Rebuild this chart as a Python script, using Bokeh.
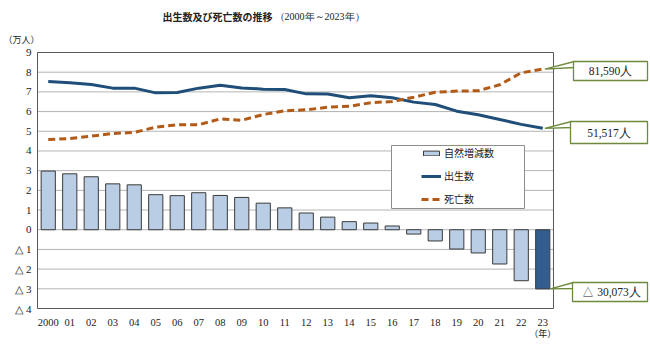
from bokeh.plotting import figure
from bokeh.models import Range1d, Legend, LegendItem, BoxAnnotation, Label
from bokeh.core.properties import value
from bokeh.embed import file_html
from bokeh.resources import INLINE

# ---- data (万人) ----
years = ["2000", "01", "02", "03", "04", "05", "06", "07", "08", "09", "10", "11",
         "12", "13", "14", "15", "16", "17", "18", "19", "20", "21", "22", "23"]
births = [7.53, 7.46, 7.38, 7.19, 7.19, 6.95, 6.97, 7.19, 7.34, 7.20, 7.14, 7.12,
          6.90, 6.89, 6.70, 6.80, 6.70, 6.48, 6.36, 6.02, 5.84, 5.60, 5.35, 5.1517]
deaths = [4.58, 4.63, 4.75, 4.89, 4.94, 5.21, 5.33, 5.33, 5.63, 5.56, 5.85, 6.04,
          6.09, 6.22, 6.27, 6.45, 6.51, 6.73, 6.98, 7.04, 7.06, 7.36, 7.97, 8.159]
natural = [2.98, 2.84, 2.69, 2.33, 2.28, 1.78, 1.73, 1.88, 1.74, 1.64, 1.35, 1.11,
           0.85, 0.64, 0.41, 0.34, 0.19, -0.22, -0.57, -0.98, -1.18, -1.74, -2.59, -3.0073]
y_ticks = list(range(-4, 10))
y_labels = [(f"△ {abs(t)}" if t < 0 else str(t)) for t in y_ticks]
last_deaths = 81590
last_births = 51517
last_natural = -30073

# ---- geometry / styles ----
W, H = 650, 353
PL, PR, PT, PB = 37, 553, 52, 308          # plot-area box on the canvas (px)
YMIN, YMAX = -4, 9
N = len(years)
UX = (PR - PL) / N                          # px per category
UY = (PB - PT) / (YMAX - YMIN)              # px per unit
NARROW = "Liberation Sans Narrow"
JP = "Noto Sans CJK JP"
GREEN = "#6e8a3c"
TXT = "#222222"


def dx(cx):   # canvas px -> data x
    return -0.5 + (cx - PL) / UX


def dy(cy):   # canvas px -> data y
    return YMAX - (cy - PT) / UY


p = figure(width=W, height=H, x_range=Range1d(dx(0), dx(W)),
           y_range=Range1d(dy(H), dy(0)), output_backend="svg",
           toolbar_location=None, x_axis_location=None, y_axis_location=None,
           min_border=0)
p.background_fill_color = "white"
p.border_fill_color = "white"
p.outline_line_color = None
p.xgrid.visible = False
p.ygrid.visible = False

xs = list(range(N))

# gridlines and plot border
p.segment(x0=-0.5, x1=N - 0.5, y0=y_ticks, y1=y_ticks, line_color="#b4b4b4", line_width=1)
p.quad(left=-0.5, right=N - 0.5, bottom=YMIN, top=YMAX, fill_color=None,
       line_color="#595959", line_width=1)

# tick labels
p.text(x=[-0.5] * len(y_ticks), y=y_ticks, text=y_labels, x_offset=-6,
       text_align="right", text_baseline="middle", text_font=value(NARROW),
       text_font_size="11px", text_color=TXT)
p.text(x=xs, y=[YMIN] * N, text=years, y_offset=14, text_align="center",
       text_baseline="middle", text_font=value(NARROW), text_font_size="10.5px",
       text_color=TXT)

colors = ["#b9cde5"] * (N - 1) + ["#345d8f"]
bars = p.vbar(x=xs, top=natural, width=0.66, fill_color=colors,
              line_color="#3a3a3a", line_width=1)
bl = p.line(x=xs, y=births, line_color="#1f4e79", line_width=3)
dl = p.line(x=xs, y=deaths, line_color="#b25a17", line_width=3, line_dash="7 4")


def screen_box(l, r, t, b, line_color, lw):
    return BoxAnnotation(left=l, right=r, top=H - t, bottom=H - b,
                         left_units="screen", right_units="screen",
                         top_units="screen", bottom_units="screen",
                         fill_color="white", fill_alpha=1,
                         line_color=line_color, line_width=lw, line_alpha=1)


# legend box + legend
p.add_layout(screen_box(391, 524, 145, 208, "#8c8c8c", 1))
legend = Legend(items=[LegendItem(label="自然増減数", renderers=[bars]),
                       LegendItem(label="出生数", renderers=[bl]),
                       LegendItem(label="死亡数", renderers=[dl])],
                location=(421, H - 206), orientation="vertical",
                border_line_color=None, background_fill_alpha=0,
                padding=0, margin=0, spacing=8, glyph_width=20, glyph_height=6,
                label_height=14, label_standoff=3,
                label_text_font=JP, label_text_font_size="10px",
                label_text_color=TXT)
p.add_layout(legend, "center")


def fmt(n):
    s = f"{abs(n):,}人"
    return ("△ " + s) if n < 0 else s


# callouts: (anchor x, anchor y, box l, r, t, b in canvas px, text)
callouts = [
    (N - 1 + 0.1, deaths[-1], (573, 647, 61, 80), fmt(last_deaths)),
    (N - 1 + 0.1, births[-1], (570, 647, 121, 143), fmt(last_births)),
    (N - 1 + 0.36, natural[-1], (572, 647, 282, 301), fmt(last_natural)),
]
for ax_, ay_, (l, r, t, b), txt in callouts:
    p.patch(x=[ax_, dx(l + 1), dx(l + 1)], y=[ay_, dy(t), dy(t + 6)],
            fill_color="white", line_color=GREEN, line_width=1.3)
    p.add_layout(screen_box(l, r, t, b, GREEN, 1.3))
    p.add_layout(Label(x=(l + r) / 2, y=H - (t + b) / 2, x_units="screen",
                       y_units="screen", text=txt, text_align="center",
                       text_baseline="middle", text_font=NARROW,
                       text_font_size="11.5px", text_color=TXT))

# titles and unit labels
p.add_layout(Label(x=162, y=H - 16, x_units="screen", y_units="screen",
                   text="出生数及び死亡数の推移", text_font=JP, text_font_style="bold",
                   text_font_size="10px", text_baseline="middle", text_color=TXT))
p.add_layout(Label(x=274, y=H - 16, x_units="screen", y_units="screen",
                   text="（2000年～2023年）", text_font="Liberation Serif",
                   text_font_size="10px", text_baseline="middle", text_color=TXT))
p.add_layout(Label(x=3, y=H - 39, x_units="screen", y_units="screen",
                   text="（万人）", text_font=JP, text_font_size="9px",
                   text_baseline="middle", text_color=TXT))
p.add_layout(Label(x=PL + (N - 0.5) * UX, y=H - 333, x_units="screen", y_units="screen",
                   text="（年）", text_font=JP, text_font_size="9px",
                   text_align="center", text_baseline="middle", text_color=TXT))

open("out.html", "w").write(file_html(p, INLINE))
